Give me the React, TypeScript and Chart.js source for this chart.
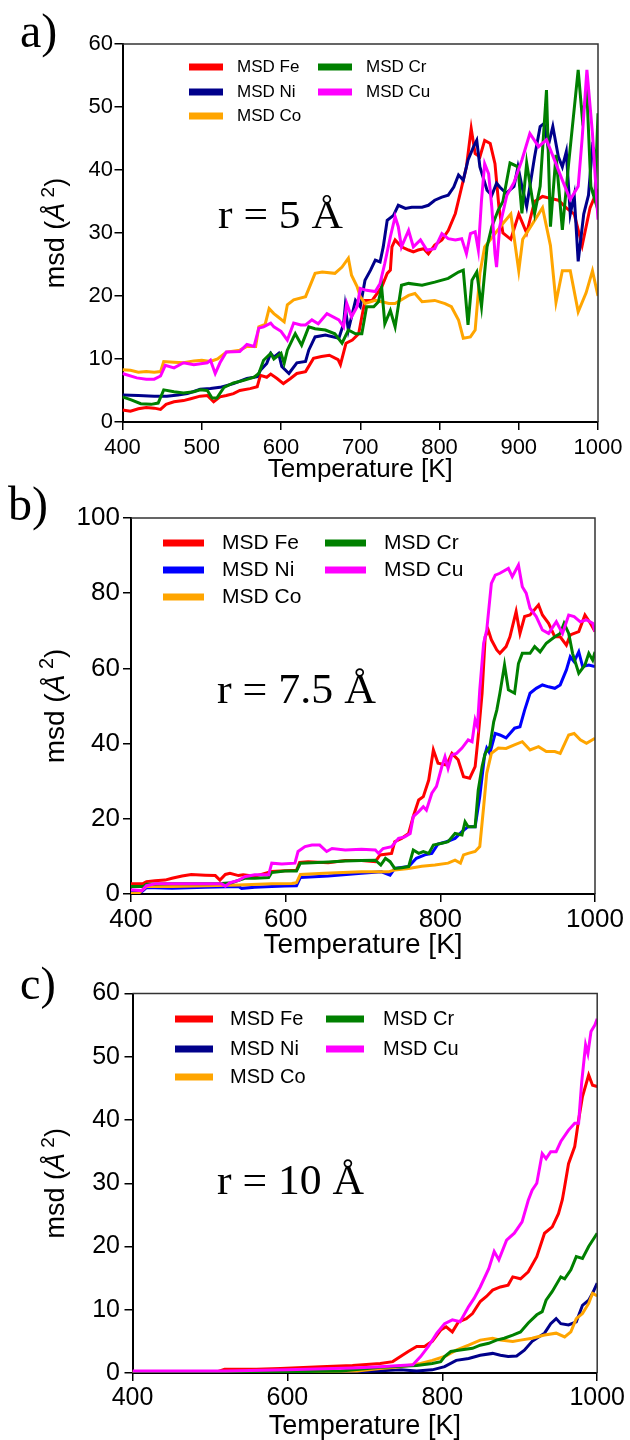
import React, { useEffect, useRef } from "react";
import { Chart, registerables } from "chart.js";

Chart.register(...registerables);

type Pts = [number, number][];

// ---------- DATA ----------
const SERIES_NAMES = ["MSD Fe", "MSD Ni", "MSD Co", "MSD Cr", "MSD Cu"];
const COLORS_AC = ["#ff0000", "#00008b", "#ffa500", "#008000", "#ff00ff"];
const COLORS_B = ["#ff0000", "#0000ff", "#ffa500", "#008000", "#ff00ff"];
const X_TITLE = "Temperature [K]";
const R_LABELS = ["r = 5 Å", "r = 7.5 Å", "r = 10 Å"];
const PANEL_LABELS = ["a)", "b)", "c)"];

// Panel a (r = 5 Å): [temperature K, msd Å²]
const A_FE: Pts = [[400,1.9],[410,1.7],[420,2.1],[430,2.3],[440,2.2],[448,2.0],[455,2.8],[465,3.2],[477,3.4],[486,3.7],[498,4.1],[507,4.2],[515,3.2],[523,4.0],[531,4.2],[540,4.5],[548,5.0],[561,5.3],[570,5.6],[574,7.4],[582,7.1],[587,7.6],[595,6.9],[603,6.1],[612,6.9],[620,7.7],[631,8.0],[641,10.1],[651,10.4],[661,10.6],[672,9.9],[675,9.1],[682,12.5],[690,13.0],[698,14.0],[702,16.7],[706,19.3],[715,19.3],[727,21.4],[734,23.6],[738,24.1],[740,27.8],[744,28.9],[752,27.8],[761,27.3],[767,27.0],[773,27.3],[780,27.5],[786,26.7],[794,28.1],[803,28.9],[811,30.4],[820,33.1],[828,37.3],[834,40.5],[840,46.6],[845,42.6],[851,42.1],[857,44.7],[864,44.2],[870,41.0],[875,34.1],[880,30],[890,29],[900,33],[910,30],[920,35],[930,35.8],[940,35.5],[950,35.2],[960,34],[970,33],[980,28],[990,34],[1000,37]];
const A_NI: Pts = [[400,4.3],[420,4.2],[440,4.1],[456,4.1],[470,4.3],[482,4.5],[498,5.2],[511,5.3],[523,5.5],[540,6.1],[557,6.9],[570,7.2],[574,8.2],[582,9.3],[587,10.9],[591,10.3],[597,10.9],[601,8.8],[610,7.7],[620,9.4],[631,9.6],[635,11.4],[643,13.5],[656,13.8],[673,13.3],[679,15.6],[681,18.3],[685,14.6],[694,19.3],[700,18.3],[706,22.5],[713,24.1],[719,25.7],[725,25.4],[729,27.8],[734,32.0],[742,32.8],[748,34.4],[757,33.9],[765,34.1],[778,34.1],[786,34.4],[794,35.2],[803,35.7],[811,36.0],[818,37.3],[824,39.2],[830,38.4],[836,41.6],[843,43.7],[847,44.7],[851,40.5],[860,36.8],[866,36.0],[872,37.9],[876,37.3],[884,36.3],[894,37.4],[899,40.5],[904,37.4],[910,34.2],[920,42.1],[927,46.9],[932,47.4],[937,43.7],[943,46.9],[950,42.1],[955,40.5],[960,42.9],[965,33],[970,36],[975,25.5],[982,33],[988,36],[993,43.7],[1000,42]];
const A_CO: Pts = [[400,8.3],[410,8.2],[420,7.9],[430,8.0],[440,7.9],[448,8.0],[452,9.6],[465,9.5],[477,9.4],[490,9.7],[500,9.8],[511,9.6],[520,10.0],[531,11.1],[548,11.4],[557,12.0],[568,12.0],[572,15.1],[580,15.5],[585,18.0],[591,17.2],[596,16.7],[604,15.9],[608,18.6],[616,19.4],[631,19.9],[643,23.6],[652,23.8],[668,23.6],[677,24.6],[685,26.0],[689,23.3],[696,21.5],[700,19.9],[706,18.8],[719,19.3],[727,19.1],[736,18.8],[744,18.8],[761,20.1],[769,20.4],[778,19.1],[794,19.3],[807,18.8],[815,18.3],[824,16.2],[830,13.3],[839,13.5],[845,14.6],[851,23.6],[857,27.8],[864,28.9],[870,29.9],[880,31.5],[890,33],[900,24],[905,29],[915,31],[930,34],[940,28],[947,19],[955,24],[965,24],[975,17.5],[985,20.5],[993,24],[1000,20]];
const A_CR: Pts = [[400,4.0],[411,3.5],[423,2.9],[436,2.8],[445,3.0],[452,5.1],[465,4.8],[477,4.6],[490,4.8],[498,5.1],[507,5.0],[513,3.8],[519,3.8],[528,5.5],[540,6.2],[553,6.6],[566,7.1],[572,7.7],[578,9.8],[587,10.9],[591,10.0],[600,10.9],[604,9.3],[608,11.4],[616,13.5],[618,14.0],[626,12.2],[635,15.1],[643,14.8],[656,14.6],[668,14.0],[677,12.5],[685,14.6],[694,14.0],[702,14.0],[708,18.3],[717,18.3],[723,19.1],[727,21.4],[731,15.6],[738,17.7],[744,15.1],[752,21.7],[761,22.0],[778,21.7],[794,22.2],[811,22.8],[824,23.8],[830,24.1],[836,15.4],[841,22.5],[847,23.8],[853,18.3],[860,27.8],[866,31.0],[874,33.6],[880,35],[889,41.1],[899,40.5],[904,33.1],[910,41.1],[920,33.1],[927,37.4],[935,52.7],[940,31],[947,42.4],[955,30.5],[963,41.1],[975,55.9],[980,48.5],[986,52.2],[991,37.4],[996,35.3],[1000,49.0]];
const A_CU: Pts = [[400,7.7],[418,7.0],[430,6.8],[440,6.8],[448,7.3],[454,9.0],[465,8.6],[477,9.4],[490,9.1],[507,9.4],[511,9.8],[517,7.7],[523,9.4],[531,11.1],[548,11.2],[557,12.3],[566,12.0],[572,14.9],[578,15.1],[587,15.7],[591,15.1],[600,14.4],[608,13.0],[616,15.7],[625,15.4],[631,15.4],[639,16.2],[647,15.6],[658,17.2],[673,16.2],[679,15.1],[683,18.8],[689,16.7],[696,18.3],[700,21.2],[708,20.9],[719,20.7],[725,22.0],[731,25.2],[738,29.4],[744,32.6],[748,31.0],[752,27.8],[761,30.4],[767,27.8],[776,28.9],[784,27.3],[794,27.5],[803,29.9],[811,29.1],[820,28.9],[828,29.1],[834,26.7],[839,29.9],[845,30.2],[849,27.3],[853,35.2],[857,41.0],[862,39.4],[866,34.1],[870,26.7],[872,24.6],[876,31.0],[885,36],[894,38],[904,41.6],[914,45.8],[925,43.7],[935,44.8],[945,41.6],[955,38.4],[965,35.3],[975,37.4],[980,45],[986,55.9],[993,45.8],[1000,32.1]];

// Panel b (r = 7.5 Å)
const B_FE: Pts = [[400,2.7],[415,2.7],[420,3.3],[431,3.5],[444,3.7],[453,4.2],[466,4.8],[478,5.2],[496,5.0],[509,4.9],[515,3.7],[522,5.2],[528,5.5],[539,4.9],[545,5.1],[560,4.7],[573,5.5],[582,6.0],[599,6.2],[614,6.3],[618,8.4],[629,8.6],[655,8.3],[677,8.9],[698,8.9],[716,8.6],[722,10.4],[737,10.8],[741,13.9],[750,14.8],[759,16.1],[765,20.6],[772,25.0],[778,25.9],[785,30.3],[791,38.3],[797,34.8],[808,34.3],[815,37.4],[823,35.7],[830,31.2],[838,30.8],[845,33.9],[849,41.9],[854,53.4],[858,68.4],[862,70.2],[866,67.6],[873,64.9],[877,64.0],[885,65.8],[890,68.4],[898,75.1],[903,69.3],[909,73.8],[916,74.2],[927,76.9],[932,74.2],[940,72.0],[948,68.4],[955,68.4],[963,66.2],[968,68.9],[979,69.8],[987,74.2],[994,72.0],[1000,69.8]];
const B_NI: Pts = [[400,0.9],[414,0.6],[420,1.7],[453,1.5],[496,1.8],[539,2.0],[543,1.5],[560,1.8],[582,2.0],[599,2.1],[614,2.2],[619,4.4],[655,4.8],[698,5.5],[724,5.9],[735,5.0],[741,6.8],[759,7.3],[769,9.5],[780,10.4],[789,10.8],[797,13.3],[808,13.9],[819,14.8],[828,16.6],[836,17.9],[845,17.9],[851,25.9],[857,36.5],[860,38.8],[864,37.4],[871,42.7],[877,42.3],[885,41.5],[896,44.1],[903,44.5],[909,48.9],[916,53.4],[924,54.7],[932,55.6],[940,55.1],[948,54.7],[955,55.6],[963,59.6],[968,63.1],[973,61.8],[979,64.4],[984,60.5],[992,60.9],[1000,60.5]];
const B_CO: Pts = [[400,0.2],[410,0.2],[420,2.0],[453,2.0],[496,2.2],[539,2.4],[582,2.7],[608,2.8],[614,3.0],[619,5.2],[650,5.5],[698,5.9],[733,5.9],[741,6.4],[759,6.8],[776,7.4],[793,7.7],[810,8.2],[819,9.0],[826,8.2],[830,10.4],[836,10.8],[845,11.3],[851,12.6],[856,23.2],[860,32.1],[866,37.4],[875,38.8],[885,38.7],[895,39.6],[906,40.5],[916,38.3],[927,39.2],[937,37.9],[948,37.9],[955,37.4],[966,42.3],[973,42.7],[981,41.0],[989,40.1],[1000,41.4]];
const B_CR: Pts = [[400,2.0],[416,2.0],[420,2.6],[453,2.7],[496,2.7],[517,2.8],[530,3.0],[547,4.2],[560,4.2],[578,4.4],[582,5.7],[599,6.1],[614,6.1],[619,8.2],[634,8.3],[655,8.5],[677,8.8],[698,8.9],[716,9.0],[723,7.7],[729,9.5],[735,8.6],[741,6.8],[750,7.0],[759,7.3],[765,11.7],[772,10.8],[778,11.3],[785,10.8],[791,13.0],[802,13.5],[810,13.9],[819,16.1],[828,15.7],[832,19.2],[836,17.9],[845,17.9],[849,27.6],[854,33.9],[858,37.4],[864,39.2],[869,45.8],[873,48.9],[877,53.4],[883,60.9],[888,54.3],[896,53.4],[901,61.3],[906,64.0],[916,64.0],[922,65.8],[929,64.4],[937,66.7],[948,68.4],[955,69.3],[960,72.0],[966,69.3],[971,64.0],[979,58.7],[987,60.9],[992,64.0],[997,62.2],[1000,64.4]];
const B_CU: Pts = [[400,1.1],[414,0.9],[420,2.2],[431,2.7],[474,2.7],[517,2.7],[522,2.1],[528,3.0],[539,3.6],[547,4.6],[560,5.1],[578,5.1],[582,8.2],[595,8.0],[612,8.2],[616,11.3],[625,12.6],[634,13.0],[644,13.0],[653,11.3],[660,12.1],[677,11.7],[698,11.9],[716,11.7],[720,10.8],[726,12.1],[737,12.6],[746,14.8],[754,15.2],[761,16.1],[765,20.6],[772,21.9],[778,23.2],[782,22.3],[789,26.8],[795,28.6],[802,33.9],[806,36.5],[810,33.4],[815,37.0],[821,37.4],[828,38.8],[836,41.0],[841,40.5],[845,46.3],[848,44.5],[851,54.3],[856,66.7],[860,70.2],[866,82.6],[871,84.8],[877,85.3],[888,86.6],[893,84.4],[901,87.5],[906,81.7],[911,80.0],[916,76.0],[924,73.8],[932,70.2],[940,69.3],[950,72.4],[958,69.3],[966,74.2],[973,73.8],[981,72.4],[989,72.9],[997,72.0],[1000,69.8]];

// Panel c (r = 10 Å)
const C_FE: Pts = [[400,0.2],[510,0.2],[519,0.6],[560,0.6],[591,0.7],[643,1.0],[684,1.2],[720,1.5],[736,1.8],[746,2.6],[756,3.4],[767,4.2],[777,4.2],[787,5.0],[798,6.8],[805,7.3],[813,6.5],[821,8.1],[831,8.6],[839,9.4],[849,11.3],[857,12.1],[865,13.1],[875,13.6],[885,13.9],[891,15.2],[901,14.9],[911,16.0],[922,18.4],[932,22.1],[942,23.1],[950,25.2],[955,27.4],[958,29.5],[963,33.1],[971,35.8],[976,40.0],[981,43.7],[989,47.1],[994,45.5],[1000,45.3]];
const C_NI: Pts = [[400,0.1],[600,0.1],[694,0.2],[746,0.5],[767,0.3],[787,0.5],[803,1.0],[818,2.0],[834,2.3],[849,2.8],[865,3.1],[875,2.8],[885,2.6],[896,2.7],[906,3.6],[916,5.0],[932,6.3],[940,7.8],[947,8.6],[953,7.8],[963,7.6],[973,8.1],[981,10.7],[989,11.5],[994,12.6],[1000,14.2]];
const C_CO: Pts = [[400,0.1],[600,0.2],[690,0.3],[720,0.7],[746,1.0],[772,1.5],[787,2.0],[803,2.6],[818,3.6],[834,4.4],[849,5.2],[865,5.5],[875,5.2],[891,5.0],[901,5.2],[916,5.5],[932,6.0],[947,6.3],[958,5.7],[966,6.5],[973,8.6],[981,9.4],[989,11.0],[994,12.6],[1000,12.2]];
const C_CR: Pts = [[400,0.1],[600,0.2],[669,0.3],[720,0.9],[767,1.2],[787,1.5],[798,1.8],[803,2.6],[811,3.4],[821,3.6],[839,3.9],[849,4.4],[860,4.7],[870,5.2],[880,5.5],[891,6.0],[901,6.5],[911,7.9],[922,9.2],[929,9.7],[934,11.5],[942,12.9],[953,15.2],[958,14.9],[966,16.3],[973,18.4],[981,18.1],[989,20.0],[1000,22.1]];
const C_CU: Pts = [[400,0.3],[520,0.3],[600,0.5],[684,0.8],[720,1.0],[746,1.2],[762,1.3],[772,2.6],[782,4.2],[793,6.3],[803,7.8],[813,8.4],[823,8.1],[834,10.5],[841,11.8],[849,13.6],[860,16.5],[867,19.2],[873,17.9],[883,21.0],[893,22.1],[903,23.9],[911,27.3],[916,28.9],[922,30.0],[929,34.7],[934,33.9],[940,35.0],[947,35.0],[953,36.6],[963,38.4],[971,39.5],[976,39.5],[980,46],[985,51.9],[988,50.5],[992,54],[997,55],[1000,56]];

const X_TICK_STEPS = [100, 200, 200];
const Y_MAXES = [60, 100, 60];
const Y_TICK_STEPS = [10, 20, 10];

// ---------- LAYOUT (page pixel coordinates) ----------
const SANS = '"Liberation Sans", Arial, sans-serif';
const SERIF = '"Liberation Serif", "Times New Roman", serif';

type Geo = {
  top: number; h: number; L: number; T: number; R: number; H: number;
  tick: number; xPad: number; yPad: number; xt: number; yt: number;
  leg: number; legX: number[]; legTX: number[]; legY: number[]; swW: number;
  rX: number; rW: number; rY: number; rSize: number;
  pX: number; pY: number; pSize: number;
};

const GEO: Geo[] = [
  { top: 0, h: 483, L: 122.5, T: 44, R: 598, H: 61, tick: 22, xPad: 6.5, yPad: 1.5, xt: 26, yt: 27,
    leg: 17, legX: [189, 318], legTX: [237, 366], legY: [67, 92, 116], swW: 34,
    rX: 218, rW: 125, rY: 228, rSize: 40, pX: 20, pY: 47, pSize: 48 },
  { top: 480, h: 479, L: 131, T: 518, R: 595, H: 65, tick: 26, xPad: 5, yPad: 3, xt: 28, yt: 28,
    leg: 21, legX: [163, 325], legTX: [222, 384], legY: [543, 570, 597], swW: 41,
    rX: 217, rW: 159, rY: 703, rSize: 42, pX: 8, pY: 520, pSize: 48 },
  { top: 950, h: 490, L: 132.5, T: 993.5, R: 599.5, H: 67, tick: 25, xPad: 5, yPad: 4.5, xt: 27, yt: 27,
    leg: 20, legX: [175, 326], legTX: [230, 383], legY: [1019, 1049, 1077], swW: 38,
    rX: 217, rW: 147, rY: 1194, rSize: 42, pX: 20, pY: 999, pSize: 46 },
];

const PANEL_SERIES: Pts[][] = [
  [A_FE, A_NI, A_CO, A_CR, A_CU],
  [B_FE, B_NI, B_CO, B_CR, B_CU],
  [C_FE, C_NI, C_CO, C_CR, C_CU],
];
const PANEL_COLORS = [COLORS_AC, COLORS_B, COLORS_AC];
// legend grid: column, row for each series
const LEGEND_POS = [[0, 0], [0, 1], [0, 2], [1, 0], [1, 1]];

function decorPlugin(idx: number) {
  const g = GEO[idx];
  const oy = g.top;
  return {
    id: "decor" + idx,
    afterDraw(chart: any) {
      const ctx: CanvasRenderingContext2D = chart.ctx;
      const a = chart.chartArea;
      ctx.save();
      // top and right frame
      ctx.strokeStyle = "#333";
      ctx.lineWidth = 1.5;
      ctx.beginPath();
      ctx.moveTo(a.left, a.top);
      ctx.lineTo(a.right, a.top);
      ctx.lineTo(a.right, a.bottom);
      ctx.stroke();

      // legend
      const colors = PANEL_COLORS[idx];
      ctx.font = `${g.leg}px ${SANS}`;
      ctx.textBaseline = "middle";
      ctx.textAlign = "left";
      SERIES_NAMES.forEach((name, i) => {
        const [c, r] = LEGEND_POS[i];
        const y = g.legY[r] - oy;
        ctx.fillStyle = colors[i];
        ctx.fillRect(g.legX[c], y - 3.5, g.swW, 7);
        ctx.fillStyle = "#000";
        ctx.fillText(name, g.legTX[c], y);
      });

      // r = ... label (serif), fitted to width
      ctx.font = `${g.rSize}px ${SERIF}`;
      ctx.textBaseline = "alphabetic";
      const rText = R_LABELS[idx];
      const mw = ctx.measureText(rText).width;
      ctx.save();
      ctx.translate(g.rX, g.rY - oy);
      ctx.scale(g.rW / mw, 1);
      ctx.fillStyle = "#000";
      ctx.fillText(rText, 0, 0);
      ctx.restore();

      // panel label
      ctx.font = `${g.pSize}px ${SERIF}`;
      ctx.fillStyle = "#000";
      ctx.fillText(PANEL_LABELS[idx], g.pX, g.pY - oy);

      // y title: msd (Å²) with italic Å and raised 2
      const cy = (a.top + a.bottom) / 2;
      const segs = [
        { t: "msd (", f: `${g.yt}px ${SANS}`, dy: 0 },
        { t: "Å", f: `italic ${g.yt}px ${SANS}`, dy: 0 },
        { t: " 2", f: `${Math.round(g.yt * 0.7)}px ${SANS}`, dy: -g.yt * 0.38 },
        { t: ")", f: `${g.yt}px ${SANS}`, dy: 0 },
      ];
      let total = 0;
      const widths = segs.map((s) => { ctx.font = s.f; const w = ctx.measureText(s.t).width; total += w; return w; });
      ctx.save();
      ctx.translate(64, cy);
      ctx.rotate(-Math.PI / 2);
      let x = -total / 2;
      segs.forEach((s, i) => {
        ctx.font = s.f;
        ctx.fillText(s.t, x, s.dy);
        x += widths[i];
      });
      ctx.restore();
      ctx.restore();
    },
  };
}

function buildChart(canvas: HTMLCanvasElement, idx: number) {
  const g = GEO[idx];
  const colors = PANEL_COLORS[idx];
  const datasets = PANEL_SERIES[idx].map((pts, i) => ({
    label: SERIES_NAMES[i],
    data: pts.map(([x, y]) => ({ x, y })),
    borderColor: colors[i],
    backgroundColor: colors[i],
    borderWidth: 3,
    pointRadius: 0,
    tension: 0,
    fill: false,
    order: 4 - i,
  }));
  const grid = { display: true, drawOnChartArea: false, drawTicks: true, tickLength: 8, color: "#000", lineWidth: 1.5 };
  const border = { display: true, color: "#000", width: 2 };
  const fmt = (v: any) => String(v);
  return new Chart(canvas, {
    type: "line",
    data: { datasets },
    plugins: [decorPlugin(idx)],
    options: {
      responsive: false,
      animation: false,
      devicePixelRatio: 1,
      layout: { padding: { top: g.T - g.top, right: 630 - g.R, left: 0, bottom: 0 } },
      plugins: { legend: { display: false }, tooltip: { enabled: false }, title: { display: false } },
      scales: {
        x: {
          type: "linear",
          min: 400,
          max: 1000,
          afterFit: (s: any) => { s.height = g.H; },
          ticks: { stepSize: X_TICK_STEPS[idx], callback: fmt, color: "#000", font: { family: SANS, size: g.tick, lineHeight: 1 }, padding: g.xPad, maxRotation: 0, autoSkip: false },
          grid,
          border,
          title: { display: true, text: X_TITLE, color: "#000", font: { family: SANS, size: g.xt, lineHeight: 1 }, padding: 0 },
        },
        y: {
          type: "linear",
          min: 0,
          max: Y_MAXES[idx],
          afterFit: (s: any) => { s.width = g.L; },
          ticks: { stepSize: Y_TICK_STEPS[idx], callback: fmt, color: "#000", font: { family: SANS, size: g.tick, lineHeight: 1 }, padding: g.yPad },
          grid,
          border,
          title: { display: false },
        },
      },
    } as any,
  });
}

function Panel({ idx }: { idx: number }) {
  const ref = useRef<HTMLCanvasElement | null>(null);
  useEffect(() => {
    if (!ref.current) return;
    const chart = buildChart(ref.current, idx);
    return () => chart.destroy();
  }, [idx]);
  const g = GEO[idx];
  return (
    <canvas
      ref={ref}
      width={630}
      height={g.h}
      style={{ position: "absolute", left: 0, top: g.top, width: 630, height: g.h }}
    />
  );
}

export default function App() {
  return (
    <div style={{ position: "absolute", left: 0, top: 0, width: 630, height: 1440, overflow: "hidden", background: "#fff" }}>
      <Panel idx={0} />
      <Panel idx={1} />
      <Panel idx={2} />
    </div>
  );
}
